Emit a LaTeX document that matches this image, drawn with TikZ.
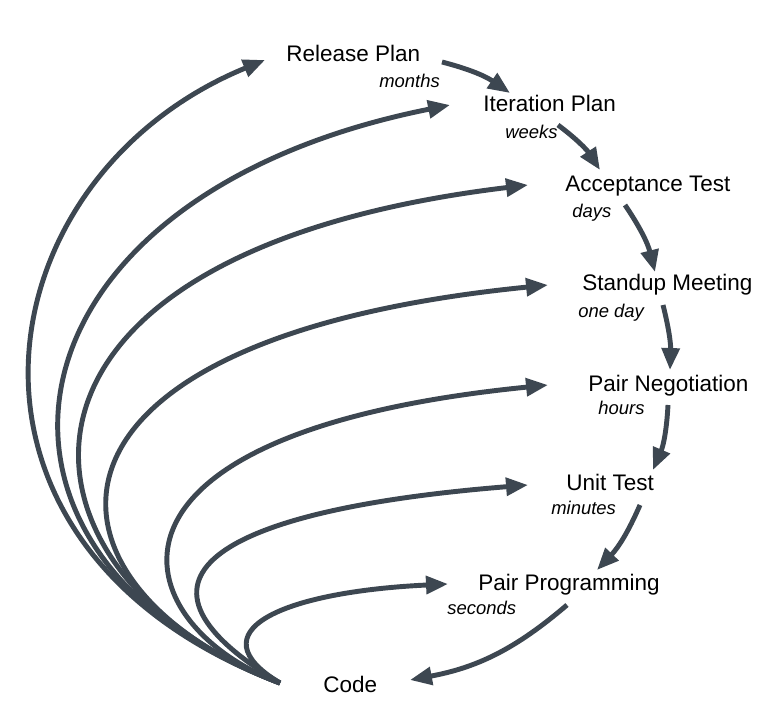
\documentclass[tikz,border=0pt]{standalone}
\usepackage{fontspec}
\setmainfont{Liberation Sans}
\usetikzlibrary{arrows.meta}

\definecolor{slate}{HTML}{3D4751}

\tikzset{
  stage/.style={anchor=base west, inner sep=0pt, font=\fontsize{12.8}{15}\selectfont},
  span/.style={anchor=base west, inner sep=0pt, font=\fontsize{10.5}{12}\selectfont\itshape},
  flow/.style={draw=slate, line width=2.8pt, -{Triangle[length=12.5pt, width=10pt]}},
}

\begin{document}
\begin{tikzpicture}[x=0.02cm, y=-0.02cm]
  \useasboundingbox (0, 0) rectangle (779, 713);

  % stages and their time spans
  \node[stage] (rel)  at (286, 62)  {Release Plan};
  \node[span]         at (379, 88)  {months};
  \node[stage] (itp)  at (483, 112) {Iteration Plan};
  \node[span]         at (505, 139) {weeks};
  \node[stage] (acc)  at (565, 192) {Acceptance Test};
  \node[span]         at (572, 218) {days};
  \node[stage] (stm)  at (582, 291) {Standup Meeting};
  \node[span]         at (578, 318) {one day};
  \node[stage] (png)  at (588, 392) {Pair Negotiation};
  \node[span]         at (598, 415) {hours};
  \node[stage] (ut)   at (566, 491) {Unit Test};
  \node[span]         at (551, 515) {minutes};
  \node[stage] (pp)   at (478, 591) {Pair Programming};
  \node[span]         at (447, 615) {seconds};
  \node[stage] (code) at (323, 692) {Code};

  \coordinate (root) at ([shift={(-43, -9)}]code.base west);

  % feedback, clockwise
  \draw[flow] ([shift={(156, 0)}]rel.base west) to[bend left=10] ([shift={(27, -19)}]itp.base west);
  \draw[flow] ([shift={(75, 13)}]itp.base west) to[bend left=10] ([shift={(35, -22)}]acc.base west);
  \draw[flow] ([shift={(60, 13)}]acc.base west) to[bend left=10] ([shift={(73, -19)}]stm.base west);
  \draw[flow] ([shift={(81, 14)}]stm.base west) to[bend left=8] ([shift={(82, -22)}]png.base west);
  \draw[flow] ([shift={(80, 13)}]png.base west) to[bend left=10] ([shift={(87, -21)}]ut.base west);
  \draw[flow] ([shift={(74, 14)}]ut.base west) to[bend left=10] ([shift={(119, -21)}]pp.base west);
  \draw[flow] ([shift={(89, 14)}]pp.base west) to[bend left=15] ([shift={(87, -12)}]code.base west);

  % code feeds every loop
  \draw[flow] (root) .. controls +(-360, -136) and +(-285, 117) .. ([shift={(-21, -2)}]rel.base west);
  \draw[flow] (root) .. controls +(-340, -129) and +(-460, 92) .. ([shift={(-33, -7)}]itp.base west);
  \draw[flow] (root) .. controls +(-279, -106) and +(-572, 69) .. ([shift={(-37, -7)}]acc.base west);
  \draw[flow] (root) .. controls +(-250, -95) and +(-550, 55) .. ([shift={(-34, -6)}]stm.base west);
  \draw[flow] (root) .. controls +(-156, -59) and +(-481, 48) .. ([shift={(-40, -7)}]png.base west);
  \draw[flow] (root) .. controls +(-180, -108) and +(-300, 24) .. ([shift={(-38, -6)}]ut.base west);
  \draw[flow] (root) .. controls +(-85, -51) and +(-168, 8) .. ([shift={(-30, -7)}]pp.base west);
\end{tikzpicture}
\end{document}
